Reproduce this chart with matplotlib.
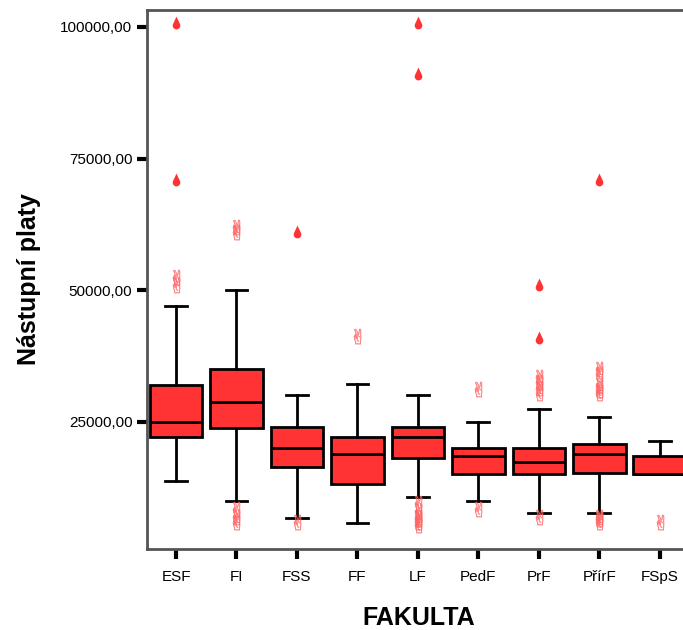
import matplotlib.pyplot as plt
import numpy as np
from matplotlib.path import Path

# data
faculties = ['ESF', 'FI', 'FSS', 'FF', 'LF', 'PedF', 'PrF', 'PřírF', 'FSpS']
whislo = [13800, 10000, 6750, 5800, 10700, 10000, 7600, 7600, 15000]
q1 = [22200, 23900, 16400, 13200, 18200, 15100, 15000, 15300, 15000]
med = [25000, 28800, 20000, 18900, 22150, 18500, 17400, 18900, 15000]
q3 = [32000, 35000, 24000, 22150, 24050, 20000, 20000, 20800, 18600]
whishi = [47000, 50000, 30000, 32200, 30000, 25000, 27500, 26000, 21400]

# extreme values (filled drops)
extremes = [
    [100800, 71000],
    [],
    [61000],
    [],
    [100800, 91000],
    [],
    [51000, 41000],
    [71000],
    [],
]
# outliers (hollow symbols)
outliers = [
    [51000, 52500],
    [61000, 62000, 8500, 7000, 6000],
    [6000],
    [41300],
    [9500, 8000, 7000, 6500, 6000, 5500],
    [31300, 8500],
    [33500, 32500, 31500, 30500, 7000],
    [35000, 34000, 32000, 31000, 30500, 7000, 6500, 6000],
    [6000],
]

plt.rcParams['font.family'] = ['Liberation Sans', 'DejaVu Sans']

fig = plt.figure(figsize=(6.83, 6.3), dpi=100)
ax = fig.add_axes([147 / 683, 81 / 630, 543 / 683, 539 / 630])

stats = []
for i, name in enumerate(faculties):
    stats.append(dict(label=name, whislo=whislo[i], q1=q1[i], med=med[i],
                      q3=q3[i], whishi=whishi[i], fliers=[]))

pos = np.arange(len(faculties))
ax.bxp(stats, positions=pos, widths=0.87, capwidths=0.36, patch_artist=True,
       showfliers=False,
       boxprops=dict(facecolor='#ff3333', edgecolor='black', linewidth=2),
       medianprops=dict(color='black', linewidth=2),
       whiskerprops=dict(color='black', linewidth=2),
       capprops=dict(color='black', linewidth=2))

# drop-shaped marker: point on top, round bottom
ang = np.radians(np.linspace(150, 390, 40))
verts = [(0, 1.0)] + [(0.55 * np.cos(a), -0.3 + 0.55 * np.sin(a)) for a in ang]
drop = Path(verts + [(0, 1.0)], closed=True)

for i in range(len(faculties)):
    if extremes[i]:
        ax.plot([pos[i]] * len(extremes[i]), extremes[i], linestyle='none',
                marker=drop, markersize=10, color='#ff3333', markeredgewidth=0)
    if outliers[i]:
        ax.plot([pos[i]] * len(outliers[i]), outliers[i], linestyle='none',
                marker='$✌$', markersize=11, color='#ff6666', alpha=0.8,
                markeredgewidth=0.3)

ax.set_xlim(-0.48, 8.5)
ax.set_ylim(850, 103200)
ax.set_yticks([25000, 50000, 75000, 100000])
ax.set_yticklabels(['25000,00', '50000,00', '75000,00', '100000,00'])
ax.set_xticks(pos)
ax.set_xticklabels(faculties)
ax.tick_params(axis='both', direction='out', width=3, length=7, color='black',
               labelsize=11)
ax.tick_params(axis='x', pad=8)

for s in ['left', 'top', 'bottom']:
    ax.spines[s].set_color('#555555')
    ax.spines[s].set_linewidth(2)
ax.spines['right'].set_visible(False)

ax.set_ylabel('Nástupní platy', fontsize=18, fontweight='bold', labelpad=14)
ax.set_xlabel('FAKULTA', fontsize=18, fontweight='bold', labelpad=16)

fig.savefig('out.png', dpi=100)
